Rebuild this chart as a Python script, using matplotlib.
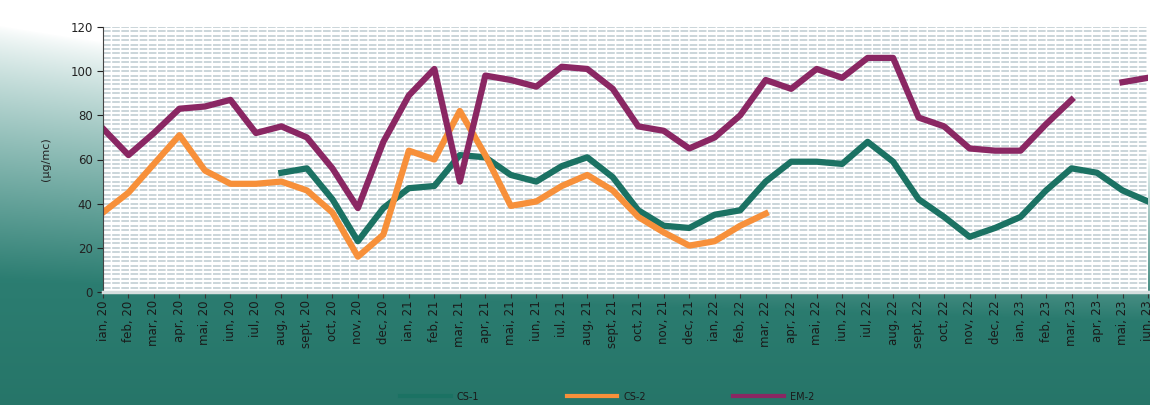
import numpy as np
import matplotlib
matplotlib.use("Agg")
import matplotlib.pyplot as plt

months = ["ian.", "feb.", "mar.", "apr.", "mai.", "iun.",
          "iul.", "aug.", "sept.", "oct.", "nov.", "dec."]
labels = [m.replace(".", ",") + " " + str(yy)
          for yy in (20, 21, 22, 23) for m in months][:42]

nan = np.nan
cs1 = [nan, nan, nan, nan, nan, nan, nan, 54, 56, 42, 23, 38,
       47, 48, 62, 61, 53, 50, 57, 61, 52, 37, 30, 29,
       35, 37, 50, 59, 59, 58, 68, 59, 42, 34, 25, 29,
       34, 46, 56, 54, 46, 41]
cs2 = [36, 45, 58, 71, 55, 49, 49, 50, 46, 36, 16, 26,
       64, 60, 82, 62, 39, 41, 48, 53, 46, 34, 27, 21,
       23, 30, 35.5, nan, nan, nan, nan, nan, nan, nan, nan, nan,
       nan, nan, nan, nan, nan, nan]
em2 = [74, 62, 72, 83, 84, 87, 72, 75, 70, 56, 38, 68,
       89, 101, 50, 98, 96, 93, 102, 101, 92, 75, 73, 65,
       70, 80, 96, 92, 101, 97, 106, 106, 79, 75, 65, 64,
       64, 76, 87, nan, 95, 97]

W, H = 1150, 405
fig = plt.figure(figsize=(W / 100, H / 100), dpi=100)

# background: white top-right fading to teal bottom-left
yy, xx = np.mgrid[0:H, 0:W]
yn = yy / H
xn = xx / W
t = np.clip(1.6 * yn - 0.1 - 0.8 * xn * (1 - yn), 0, 1)
top_teal = np.array([0.22, 0.56, 0.52])
bot_teal = np.array([0.15, 0.46, 0.41])
teal = top_teal + (bot_teal - top_teal) * yn[..., None]
w = t[..., None] ** 0.8
img = (1 - w) * 1.0 + w * teal
bg = fig.add_axes([0, 0, 1, 1], zorder=-10)
bg.imshow(img, aspect="auto", extent=[0, 1, 0, 1])
bg.axis("off")

ax = fig.add_axes([103 / W, 1 - 292 / H, 1045 / W, 265 / H])
ax.set_facecolor("white")
x = np.arange(len(labels))

ax.plot(x, cs1, color="#1b7263", lw=4.5, label="CS-1", solid_joinstyle="round")
ax.plot(x, cs2, color="#f7903a", lw=4.5, label="CS-2", solid_joinstyle="round")
ax.plot(x, em2, color="#8a2763", lw=4.5, label="EM-2", solid_joinstyle="round")

ax.set_xlim(0, len(labels) - 1)
ax.set_ylim(0, 120)
ax.set_yticks(np.arange(0, 121, 20))
ax.set_yticks(np.arange(0, 121, 2), minor=True)
ax.grid(True, which="both", axis="y", color="#bccad0", lw=1.1, ls=(0, (5, 1)))
ax.set_axisbelow(True)
ax.tick_params(axis="y", which="minor", length=0)
ax.tick_params(axis="y", which="major", labelsize=8.5, colors="#222222", length=4)
ax.set_xticks(x)
ax.set_xticklabels(labels, rotation=90, fontsize=8.5, color="#1a1a1a")
ax.tick_params(axis="x", length=4, color="#333333", pad=2)
ax.set_ylabel("(µg/mc)", fontsize=8, color="#222222", labelpad=14)
for s in ("top", "right"):
    ax.spines[s].set_visible(False)
ax.spines["left"].set_color("#444444")
ax.spines["bottom"].set_color("#d5dede")
ax.spines["bottom"].set_linewidth(2.5)

leg = fig.legend(loc="center", bbox_to_anchor=(0.528, 0.02), ncol=3, frameon=False,
                 fontsize=7, handlelength=5.2, columnspacing=9, handletextpad=0.6)
for txt in leg.get_texts():
    txt.set_color("#1a1a1a")
for ln in leg.get_lines():
    ln.set_linewidth(3)

fig.savefig("out.png", dpi=100)
